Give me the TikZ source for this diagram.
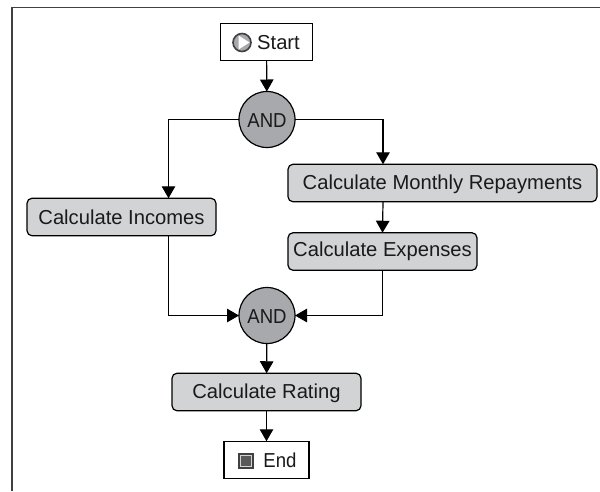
\documentclass[tikz,border=0pt]{standalone}
\usepackage{fontspec}
\setmainfont{Liberation Sans}
\newfontfamily\narrowface[FakeStretch=0.92]{Liberation Sans}
\usetikzlibrary{arrows.meta}
\definecolor{boxgrey}{HTML}{D1D3D4}
\definecolor{gategrey}{HTML}{A7A9AC}
\definecolor{framegrey}{HTML}{404040}
\definecolor{inktext}{HTML}{1A1A1A}
\tikzset{
  flowtext/.style={font=\fontsize{20.2}{22}\selectfont, text=inktext, inner sep=0pt, outer sep=0pt, text height=15pt, text depth=0pt},
  taskbox/.style={flowtext, draw=black, fill=boxgrey, line width=1.2pt, rounded corners=5pt, minimum height=37.5pt},
  termbox/.style={flowtext, draw=black, fill=white, line width=1.2pt, minimum height=37.5pt},
  gate/.style={flowtext, font=\fontsize{20.2}{22}\narrowface, circle, draw=black, fill=gategrey, line width=1.2pt, minimum size=56pt},
  flow/.style={draw=black, line width=1.2pt, -{Triangle[length=12pt,width=13.5pt]}},
  frameline/.style={draw=framegrey, line width=1.6pt}
}
\begin{document}
\begin{tikzpicture}[x=1pt,y=-1pt]
\useasboundingbox (0,0) rectangle (600,491);
\fill[white] (0,0) rectangle (600,491);
\draw[frameline] (12,491) -- (12,7.5) -- (600,7.5);

\node[termbox, minimum width=92pt] (start) at (266.5,42) {\hspace*{24pt}Start};
\node[gate] (and1) at (267,119.5) {AND};
\node[taskbox, minimum width=189pt] (inc) at (121.5,217) {Calculate Incomes};
\node[taskbox, minimum width=309pt, text depth=3pt] (rep) at (442.5,183) {Calculate Monthly Repayments};
\node[taskbox, minimum width=189pt, text depth=5pt] (exp) at (382.5,251.5) {Calculate Expenses};
\node[gate] (and2) at (267,315.5) {AND};
\node[taskbox, minimum width=189pt, text depth=3pt] (rate) at (266.5,392) {Calculate Rating};
\node[termbox, minimum width=85pt, font=\fontsize{20.2}{22}\narrowface] (end) at (266.5,460) {\hspace*{27pt}End};

% start icon
\fill[gategrey] (242,42.5) circle (9);
\fill[white] (238.5,35.5) -- (249.5,42.5) -- (238.5,49.5) -- cycle;
\draw[framegrey, line width=1.6pt] (242,42.5) circle (9);
% end icon
\fill[framegrey] (237.5,452.5) rectangle (253.5,468.5);
\fill[boxgrey] (239.5,454.5) rectangle (251.5,466.5);
\fill[black!65] (240.5,455.5) rectangle (250.5,465.5);

\draw[flow] (start) -- (and1);
\draw[flow] (and1.west) -| ([xshift=47pt]inc.north);
\draw[flow] (and1.east) -| ([xshift=-59.5pt]rep.north);
\draw[flow] ([xshift=-59.5pt]rep.south) -- (exp.north);
\draw[flow] ([xshift=47pt]inc.south) |- (and2.west);
\draw[flow] (exp.south) |- (and2.east);
\draw[flow] (and2) -- (rate);
\draw[flow] (rate) -- (end);
\end{tikzpicture}
\end{document}
